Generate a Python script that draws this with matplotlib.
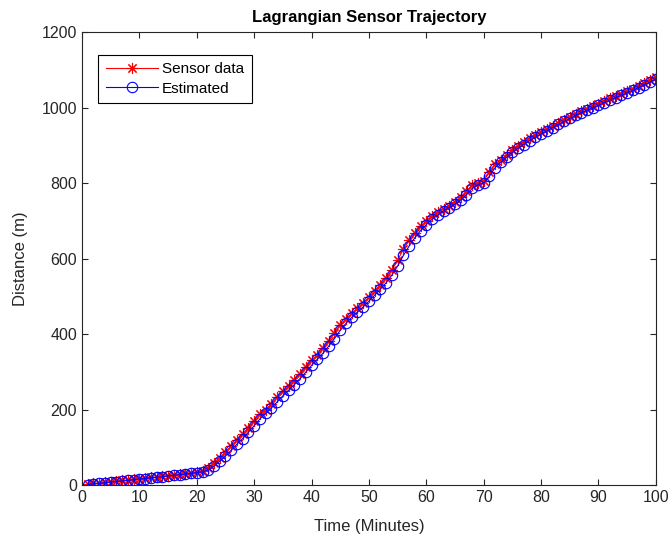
import numpy as np
import matplotlib.pyplot as plt

plt.rcParams['font.family'] = ['Liberation Sans', 'DejaVu Sans']

# time in minutes
time_min = list(range(1, 101))

# sensor measured distance (m)
sensor_data = [2, 4, 5, 7, 9, 10, 12, 13, 15, 17,
               18, 20, 21, 23, 25, 27, 28, 30, 32, 34,
               37, 45, 58, 72, 88, 103, 120, 135, 152, 170,
               187, 200, 215, 232, 248, 262, 278, 295, 312, 330,
               345, 362, 382, 402, 425, 440, 455, 468, 482, 498,
               515, 530, 548, 570, 595, 625, 648, 668, 685, 700,
               712, 722, 732, 740, 750, 762, 778, 795, 800, 805,
               830, 850, 862, 875, 888, 898, 908, 918, 926, 935,
               943, 952, 960, 968, 976, 983, 990, 997, 1003, 1010,
               1017, 1024, 1030, 1037, 1043, 1050, 1057, 1064, 1072, 1082]

# estimated distance (m)
estimated = [1, 3, 4, 6, 8, 9, 11, 12, 14, 16,
             17, 19, 20, 22, 24, 26, 27, 29, 31, 33,
             35, 40, 50, 63, 77, 92, 108, 123, 140, 157,
             175, 190, 204, 220, 236, 251, 266, 282, 299, 317,
             333, 349, 368, 388, 410, 428, 444, 458, 472, 487,
             503, 519, 536, 556, 580, 608, 633, 655, 674, 690,
             704, 715, 726, 735, 744, 755, 769, 786, 795, 800,
             818, 841, 855, 868, 881, 892, 902, 912, 921, 930,
             938, 947, 955, 963, 971, 979, 986, 993, 999, 1006,
             1013, 1020, 1026, 1033, 1039, 1046, 1053, 1060, 1067, 1076]

fig = plt.figure(figsize=(6.72, 5.38), dpi=100)
ax = fig.add_axes([0.122, 0.0985, 0.854, 0.842])

# matlab style asterisk marker (8 arms)
ax.plot(time_min, sensor_data, color='red', marker=(8, 2, 0), markersize=8,
        markeredgewidth=0.8, linewidth=0.8, label='Sensor data')
ax.plot(time_min, estimated, color='blue', marker='o', markersize=7.5,
        markerfacecolor='none', markeredgewidth=0.8, linewidth=0.8,
        label='Estimated')

ax.set_xlim(0, 100)
ax.set_ylim(0, 1200)
ax.set_xticks(np.arange(0, 101, 10))
ax.set_yticks(np.arange(0, 1201, 200))
ax.tick_params(direction='in', top=True, right=True, labelsize=11.5,
               colors='#262626', length=4)
for s in ax.spines.values():
    s.set_color('#262626')
    s.set_linewidth(0.8)

ax.set_xlabel('Time (Minutes)', fontsize=12, color='#262626', labelpad=10)
ax.set_ylabel('Distance (m)', fontsize=12, color='#262626', labelpad=10)
ax.set_title('Lagrangian Sensor Trajectory', fontsize=12, fontweight='bold',
             pad=7)

leg = ax.legend(loc='upper left', bbox_to_anchor=(0.028, 0.95), fontsize=11,
                borderaxespad=0, fancybox=False, edgecolor='black',
                framealpha=1, handlelength=3.4, handletextpad=0.3,
                borderpad=0.5, labelspacing=0.35)
leg.get_frame().set_linewidth(0.8)

fig.savefig('out.png', dpi=100)
